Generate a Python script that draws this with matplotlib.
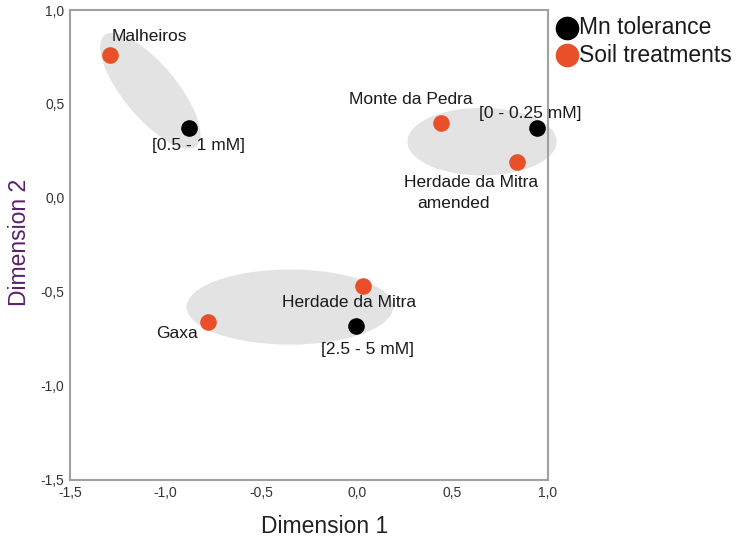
import matplotlib
matplotlib.use("Agg")
import matplotlib.pyplot as plt
from matplotlib.patches import Ellipse
from matplotlib.lines import Line2D

plt.rcParams['font.family'] = ['Liberation Sans', 'DejaVu Sans']

# data
mn_names = ["[0.5 - 1 mM]", "[0 - 0.25 mM]", "[2.5 - 5 mM]"]
mn_x = [-0.88, 0.94, -0.005]
mn_y = [0.37, 0.37, -0.68]

soil_names = ["Malheiros", "Monte da Pedra", "Herdade da Mitra\namended", "Herdade da Mitra", "Gaxa"]
soil_x = [-1.29, 0.44, 0.84, 0.03, -0.78]
soil_y = [0.76, 0.40, 0.19, -0.47, -0.66]

x_ticks = [-1.5, -1.0, -0.5, 0.0, 0.5, 1.0]
y_ticks = [-1.5, -1.0, -0.5, 0.0, 0.5, 1.0]

legend_labels = ["Mn tolerance", "Soil treatments"]

fig = plt.figure(figsize=(7.46, 5.44), dpi=100)
ax = fig.add_axes([70/746, 1 - 480/544, 478/746, 470/544])
ax.set_xlim(-1.5, 1.0)
ax.set_ylim(-1.5, 1.0)

ell_color = '#e3e3e3'
ax.add_patch(Ellipse((-1.08, 0.57), 0.76, 0.28, angle=-51, color=ell_color, zorder=1, lw=0, clip_on=False))
ax.add_patch(Ellipse((0.655, 0.30), 0.78, 0.36, angle=0, color=ell_color, zorder=1, lw=0, clip_on=False))
ax.add_patch(Ellipse((-0.35, -0.58), 1.08, 0.40, angle=0, color=ell_color, zorder=1, lw=0, clip_on=False))

orange = '#e8502a'
ax.scatter(mn_x, mn_y, s=120, color='black', zorder=3, clip_on=False)
ax.scatter(soil_x, soil_y, s=120, color=orange, zorder=3, clip_on=False)

fs = 12.5
lab = dict(fontsize=fs, color='#1a1a1a', va='center', ha='left', zorder=4, clip_on=False)
ax.text(-1.28, 0.86, soil_names[0], **lab)
ax.text(-0.04, 0.525, soil_names[1], **lab)
ax.text(0.247, 0.085, "Herdade da Mitra", **lab)
ax.text(0.315, -0.028, "amended", **lab)
ax.text(-0.39, -0.555, soil_names[3], **lab)
ax.text(-1.05, -0.72, soil_names[4], **lab)
ax.text(-1.07, 0.28, mn_names[0], **lab)
ax.text(0.64, 0.45, mn_names[1], **lab)
ax.text(-0.185, -0.805, mn_names[2], **lab)

ax.set_xticks(x_ticks)
ax.set_yticks(y_ticks)
fmt = lambda v: f"{v:.1f}".replace('.', ',')
ax.set_xticklabels([fmt(v) for v in x_ticks], fontsize=10, color='#333333')
ax.set_yticklabels([fmt(v) for v in y_ticks], fontsize=10, color='#333333')
ax.tick_params(length=0, pad=4)
for s in ax.spines.values():
    s.set_color('#a0a0a0')
    s.set_linewidth(1.5)
    s.set_zorder(2)

ax.set_xlabel("Dimension 1", fontsize=16.5, color='#222222')
ax.xaxis.set_label_coords(0.532, -0.075)
ax.set_ylabel("Dimension 2", fontsize=16.5, color='#5b1f6e')
ax.yaxis.set_label_coords(-0.082, 0.505)

# legend (manual, outside the axes at top right)
leg_colors = ['black', orange]
for i, (lbl, c) in enumerate(zip(legend_labels, leg_colors)):
    yy = 1 - (28 + 27 * i) / 544
    fig.add_artist(Line2D([567/746], [yy], marker='o', ls='', color=c, markersize=16,
                          transform=fig.transFigure))
    fig.text(579/746, yy, lbl, fontsize=16.5, color='#1a1a1a', va='center', ha='left')

fig.savefig("out.png", dpi=100)
